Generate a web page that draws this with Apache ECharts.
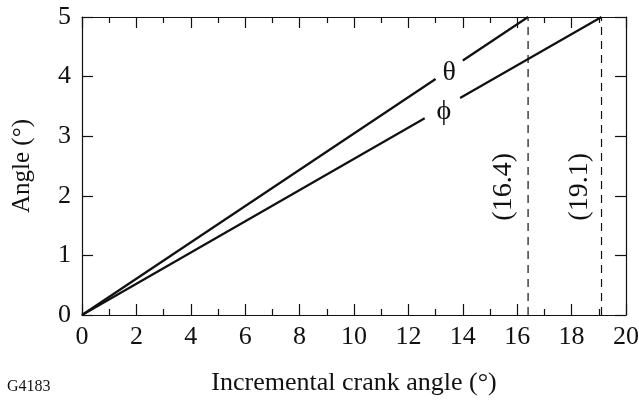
<!DOCTYPE html>
<html>
<head>
<meta charset="utf-8">
<script src="https://cdn.jsdelivr.net/npm/echarts@6/dist/echarts.min.js"></script>
<style>
  html, body { margin: 0; padding: 0; background: #fff; }
  #chart { width: 639px; height: 400px; }
</style>
</head>
<body>
<div id="chart"></div>
<script>
// lines start at origin, break around the label, then run to the top
const thetaData = [[0, 0], [13.0, 3.96], null, [14.0, 4.27], [16.4, 5]]
const phiData = [[0, 0], [12.6, 3.30], null, [13.9, 3.64], [19.1, 5]]
const markers = [16.4, 19.1]
const curveLabels = [
  { name: 'θ', value: [13.5, 4.07] },
  { name: 'ϕ', value: [13.3, 3.42] }
]
const markerLabels = [
  { name: '(16.4)', value: [15.5, 2.15] },
  { name: '(19.1)', value: [18.3, 2.15] }
]

const font = 'Liberation Serif'
const ink = '#111'

const chart = echarts.init(document.getElementById('chart'))

const baseX = {
  type: 'value',
  min: 0,
  max: 20,
  interval: 2,
  axisLine: { onZero: false, lineStyle: { color: ink, width: 1.2 } },
  axisTick: { inside: true, length: 11, lineStyle: { color: ink, width: 1.2 } },
  minorTick: { show: true, splitNumber: 2, length: 6, lineStyle: { color: ink, width: 1.2 } },
  splitLine: { show: false }
}
const baseY = {
  type: 'value',
  min: 0,
  max: 5,
  interval: 1,
  axisLine: { show: true, onZero: false, lineStyle: { color: ink, width: 1.2 } },
  axisTick: { inside: true, length: 11, lineStyle: { color: ink, width: 1.2 } },
  splitLine: { show: false }
}

const option = {
  animation: false,
  grid: { left: 82, right: 13, top: 17, bottom: 85, outerBoundsMode: 'none' },
  xAxis: [
    Object.assign({}, baseX, {
      position: 'bottom',
      name: 'Incremental crank angle (°)',
      nameLocation: 'middle',
      nameGap: 55,
      nameTextStyle: { fontFamily: font, fontSize: 26, color: ink },
      axisLabel: { fontFamily: font, fontSize: 26, color: ink, margin: 9 }
    }),
    Object.assign({}, baseX, { position: 'top', axisLabel: { show: false } })
  ],
  yAxis: [
    Object.assign({}, baseY, {
      position: 'left',
      name: 'Angle (°)',
      nameLocation: 'middle',
      nameGap: 47,
      nameTextStyle: { fontFamily: font, fontSize: 25, color: ink },
      axisLabel: { fontFamily: font, fontSize: 26, color: ink, margin: 11 }
    }),
    Object.assign({}, baseY, { position: 'right', axisLabel: { show: false } })
  ],
  graphic: [{
    type: 'text',
    left: 7,
    top: 379,
    style: { text: 'G4183', font: '16px "Liberation Serif"', fill: ink }
  }],
  series: [
    {
      type: 'line',
      data: thetaData,
      showSymbol: false,
      connectNulls: false,
      lineStyle: { color: ink, width: 2.2 }
    },
    {
      type: 'line',
      data: phiData,
      showSymbol: false,
      connectNulls: false,
      lineStyle: { color: ink, width: 2.2 }
    },
    ...markers.map(x => ({
      type: 'line',
      data: [[x, 0], [x, 5]],
      showSymbol: false,
      lineStyle: { color: ink, width: 1.2, type: [8, 6] }
    })),
    {
      type: 'scatter',
      data: curveLabels,
      symbolSize: 0,
      itemStyle: { opacity: 1 },
      label: {
        show: true,
        position: 'inside',
        formatter: p => p.name,
        fontFamily: font,
        fontSize: 28,
        color: ink
      }
    },
    {
      type: 'scatter',
      data: markerLabels,
      symbolSize: 0,
      itemStyle: { opacity: 1 },
      label: {
        show: true,
        position: 'inside',
        rotate: 90,
        formatter: p => p.name,
        fontFamily: font,
        fontSize: 28,
        color: ink
      }
    }
  ]
}

chart.setOption(option)
</script>
</body>
</html>
